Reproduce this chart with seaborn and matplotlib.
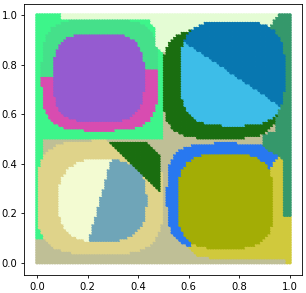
import numpy as np
import pandas as pd
import seaborn as sns
import matplotlib.pyplot as plt
from matplotlib.path import Path

# colours of the segment labels
colours = {
    'tan': '#bfbf96', 'khaki': '#dfd38a', 'bright_green': '#3df58a',
    'mid_green': '#45e08a', 'pale_green': '#e4fcd4', 'pink': '#d84cb0',
    'purple': '#955bd0', 'dark_green': '#1a6e10', 'dark_blue': '#0877b0',
    'sky_blue': '#3dbde8', 'teal': '#35986b', 'blue': '#2878f0',
    'yellow': '#d0c93c', 'olive': '#a3ad05', 'cream': '#f3fbd2',
    'steel': '#6fa5b8',
}

# rounded blobs: centre x, centre y, half width, half height
tl_ring = (0.25, 0.76, 0.23, 0.225)
tl_core = (0.246, 0.749, 0.18, 0.18)
tr_ring = (0.73, 0.725, 0.23, 0.222)
tr_core = (0.775, 0.767, 0.207, 0.212)
bl_ring = (0.25, 0.265, 0.25, 0.23)
bl_core = (0.26, 0.252, 0.175, 0.168)
br_ring = (0.75, 0.27, 0.235, 0.215)
br_core = (0.748, 0.249, 0.19, 0.192)

# split lines between halves of a blob
tl_split = [(0.02, 0.753), (0.48, 0.784)]
tr_split = [(0.597, 0.885), (0.938, 0.65)]
bl_split = [(0.203, 0.084), (0.295, 0.42)]
br_split = [(0.6, 0.06), (0.965, 0.43)]

# irregular regions
pale_poly = [(0.1, 1.01), (0.965, 1.01), (0.91, 0.94), (0.55, 0.92), (0.5, 0.85),
             (0.475, 0.87), (0.47, 0.95), (0.44, 0.985), (0.1, 0.985)]
teal_poly = [(0.96, 1.01), (1.01, 1.01), (1.01, 0.185), (0.975, 0.185), (0.975, 0.42),
             (0.9, 0.465), (0.89, 0.52), (0.94, 0.53), (0.94, 0.9), (0.91, 0.94)]
yellow_poly = [(0.6, 0.06), (0.63, 0.03), (0.68, 0.02), (0.985, 0.02), (0.985, -0.01),
               (1.01, -0.01), (1.01, 0.43), (0.965, 0.43)]
triangle_poly = [(0.285, 0.488), (0.44, 0.488), (0.49, 0.43), (0.49, 0.286)]

n = 100
grid = np.linspace(0, 1, n)
xx, yy = np.meshgrid(grid, grid)
px, py = xx.ravel(), yy.ravel()


def blob(cx, cy, hx, hy, p=3.2):
    return np.abs((px - cx) / hx) ** p + np.abs((py - cy) / hy) ** p <= 1


def poly(verts):
    return Path(verts).contains_points(np.column_stack([px, py]))


def left_of(line):
    (x0, y0), (x1, y1) = line
    return (x1 - x0) * (py - y0) - (y1 - y0) * (px - x0) > 0


lab = np.full(px.shape, 'tan', dtype=object)
lab[(px < 0.5) & (py > 0.495)] = 'bright_green'
lab[(px < 0.025) & (py > 0.1)] = 'bright_green'
lab[poly(pale_poly)] = 'pale_green'
lab[poly(yellow_poly)] = 'yellow'
lab[blob(*br_ring, p=3.6) & left_of(br_split)] = 'blue'
lab[poly(teal_poly)] = 'teal'

m = blob(*tl_ring, p=3.8)
lab[m & left_of(tl_split)] = 'mid_green'
lab[m & ~left_of(tl_split)] = 'pink'
lab[blob(*tl_core)] = 'purple'

lab[blob(*tr_ring, p=3.8)] = 'dark_green'
m = blob(*tr_core)
lab[m & left_of(tr_split)] = 'dark_blue'
lab[m & ~left_of(tr_split)] = 'sky_blue'

lab[blob(*bl_ring, p=3.4)] = 'khaki'
lab[poly(triangle_poly)] = 'dark_green'
m = blob(*bl_core, p=2.6)
lab[m & left_of(bl_split)] = 'cream'
lab[m & ~left_of(bl_split)] = 'steel'
lab[blob(*br_core)] = 'olive'

df = pd.DataFrame({'x': px, 'y': py, 'label': lab})

plt.rcParams.update({
    'font.size': 7.2,
    'axes.linewidth': 0.6,
    'xtick.major.size': 2.5, 'ytick.major.size': 2.5,
    'xtick.major.width': 0.6, 'ytick.major.width': 0.6,
    'xtick.major.pad': 2.5, 'ytick.major.pad': 2.5,
})
fig = plt.figure(figsize=(3.06, 2.93), dpi=100)
ax = fig.add_axes([0.080, 0.061, 0.9085, 0.927])
sns.scatterplot(data=df, x='x', y='y', hue='label', palette=colours, marker='o',
                s=8, linewidth=0, legend=False, ax=ax)
ax.set_xlim(-0.05, 1.05)
ax.set_ylim(-0.051, 1.047)
ax.set_xticks(np.arange(0, 1.01, 0.2))
ax.set_yticks(np.arange(0, 1.01, 0.2))
ax.set_xlabel('')
ax.set_ylabel('')
fig.savefig('out.png', dpi=100)
